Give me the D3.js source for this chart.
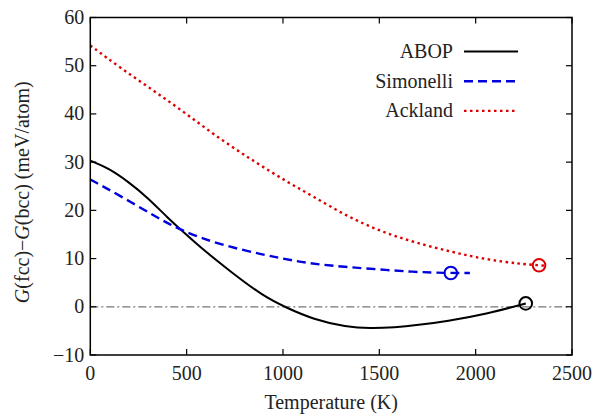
<!DOCTYPE html>
<html lang="en">
<head>
    <meta charset="UTF-8">
    <title>G(fcc)-G(bcc) vs temperature</title>
    <script src="https://cdn.jsdelivr.net/npm/d3@7"></script>
    <style>
        body { margin: 0; background: #fff; }
        svg text { font-family: "Liberation Serif", "Times New Roman", serif; font-size: 20px; fill: #222; }
        .frame { fill: none; stroke: #000; stroke-width: 1.5px; }
        .tick { stroke: #000; stroke-width: 1.2px; }
    </style>
</head>
<body>
    <script>
        // values
        var xTicks = [0, 500, 1000, 1500, 2000, 2500];
        var yTicks = [-10, 0, 10, 20, 30, 40, 50, 60];

        var abopT = [0, 92, 195, 299, 403, 489, 584, 725, 897, 1018, 1157, 1330, 1451, 1580, 1700, 1849, 2056, 2260];
        var abopG = [30.3, 28.8, 26.0, 22.6, 18.4, 15.3, 11.9, 7.4, 2.2, -0.2, -2.6, -4.2, -4.5, -4.3, -3.8, -3.0, -1.5, 0.7];

        var simT = [0, 161, 334, 472, 662, 897, 1070, 1243, 1451, 1676, 1871, 1970];
        var simG = [26.4, 22.9, 18.8, 15.8, 13.0, 10.8, 9.4, 8.5, 7.9, 7.2, 7.0, 7.0];

        var ackT = [0, 161, 334, 506, 680, 853, 1017, 1157, 1330, 1503, 1676, 1883, 2056, 2229, 2329, 2367];
        var ackG = [54.2, 49.4, 44.7, 39.8, 34.6, 30.1, 26.0, 22.9, 18.8, 15.7, 13.4, 11.3, 9.8, 8.9, 8.6, 8.5];

        // melting points (circles)
        var meltT = [2260, 1871, 2329];
        var meltG = [0.7, 7.0, 8.6];

        var names = ["ABOP", "Simonelli", "Ackland"];

        var width = 593, height = 414;
        var margin = {top: 17.5, right: 21, bottom: 59, left: 90.3};

        var svg = d3.select("body").append("svg")
            .attr("width", width)
            .attr("height", height);

        var x = d3.scaleLinear().domain([0, 2500]).range([margin.left, width - margin.right]);
        var y = d3.scaleLinear().domain([-10, 60]).range([height - margin.bottom, margin.top]);

        var series = [
            {t: abopT, g: abopG, color: "#000", width: 2, dash: null},
            {t: simT, g: simG, color: "#0000dd", width: 2.4, dash: "9,5"},
            {t: ackT, g: ackG, color: "#dd0000", width: 2.4, dash: "2.5,3.5"}
        ];

        // zero line
        svg.append("line")
            .attr("x1", x(0)).attr("x2", x(2500))
            .attr("y1", y(0)).attr("y2", y(0))
            .attr("stroke", "#777")
            .attr("stroke-width", 1.3)
            .attr("stroke-dasharray", "8,3,2,3");

        var line = d3.line()
            .x(d => x(d[0]))
            .y(d => y(d[1]))
            .curve(d3.curveBasis);

        series.forEach(function(s) {
            svg.append("path")
                .attr("d", line(d3.zip(s.t, s.g)))
                .attr("fill", "none")
                .attr("stroke", s.color)
                .attr("stroke-width", s.width)
                .attr("stroke-dasharray", s.dash);
        });

        series.forEach(function(s, i) {
            svg.append("circle")
                .attr("cx", x(meltT[i]))
                .attr("cy", y(meltG[i]))
                .attr("r", 6.3)
                .attr("fill", "none")
                .attr("stroke", s.color)
                .attr("stroke-width", 2);
        });

        // frame and inward ticks on all sides
        var x0 = x.range()[0], x1 = x.range()[1], y0 = y.range()[0], y1 = y.range()[1];
        svg.append("rect").attr("class", "frame")
            .attr("x", x0).attr("y", y1)
            .attr("width", x1 - x0).attr("height", y0 - y1);

        var tl = 6;
        xTicks.forEach(function(v) {
            svg.append("line").attr("class", "tick")
                .attr("x1", x(v)).attr("x2", x(v)).attr("y1", y0).attr("y2", y0 - tl);
            svg.append("line").attr("class", "tick")
                .attr("x1", x(v)).attr("x2", x(v)).attr("y1", y1).attr("y2", y1 + tl);
            svg.append("text")
                .attr("x", x(v)).attr("y", y0 + 25)
                .attr("text-anchor", "middle")
                .text(v);
        });
        yTicks.forEach(function(v) {
            svg.append("line").attr("class", "tick")
                .attr("x1", x0).attr("x2", x0 + tl).attr("y1", y(v)).attr("y2", y(v));
            svg.append("line").attr("class", "tick")
                .attr("x1", x1).attr("x2", x1 - tl).attr("y1", y(v)).attr("y2", y(v));
            svg.append("text")
                .attr("x", x0 - 6).attr("y", y(v) + 6.5)
                .attr("text-anchor", "end")
                .text(v < 0 ? "\u2212" + (-v) : v);
        });

        // axis titles
        svg.append("text")
            .attr("x", (x0 + x1) / 2).attr("y", 409)
            .attr("text-anchor", "middle")
            .text("Temperature (K)");

        var yl = svg.append("text")
            .attr("transform", "translate(29," + ((y0 + y1) / 2 + 6) + ") rotate(-90)")
            .attr("text-anchor", "middle");
        yl.append("tspan").attr("font-style", "italic").text("G");
        yl.append("tspan").text("(fcc)\u2212");
        yl.append("tspan").attr("font-style", "italic").text("G");
        yl.append("tspan").text("(bcc) (meV/atom)");

        // legend
        series.forEach(function(s, i) {
            var ly = 51.5 + i * 29.7;
            svg.append("text")
                .attr("x", 453).attr("y", ly + 6.5)
                .attr("text-anchor", "end")
                .text(names[i]);
            svg.append("line")
                .attr("x1", 464).attr("x2", 518)
                .attr("y1", ly).attr("y2", ly)
                .attr("stroke", s.color)
                .attr("stroke-width", s.width)
                .attr("stroke-dasharray", s.dash);
        });
    </script>
</body>
</html>
